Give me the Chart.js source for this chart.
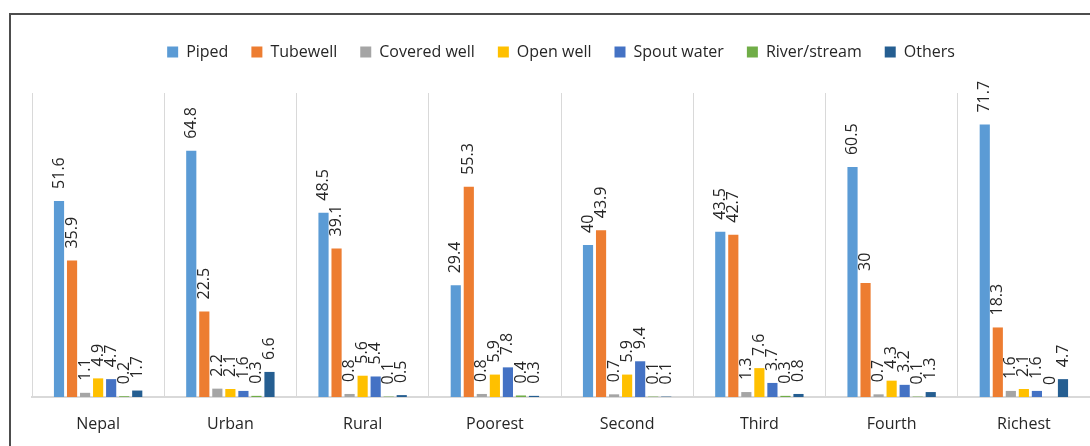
<!DOCTYPE html>
<html>
<head>
<meta charset="utf-8">
<script src="https://cdn.jsdelivr.net/npm/chart.js@4/dist/chart.umd.min.js"></script>
<style>
  html, body { margin:0; padding:0; background:#fff; overflow:hidden; }
  #wrap { position:relative; width:1090px; height:446px; }
  #frame { position:absolute; left:9px; top:13px; width:1200px; height:600px;
           border-left:2px solid #4d4d4d; border-top:2px solid #4d4d4d; }
  #chartBox { position:absolute; left:0; top:0; width:1090px; height:446px; }
</style>
</head>
<body>
<div id="wrap">
  <div id="frame"></div>
  <div id="chartBox"><canvas id="c"></canvas></div>
</div>
<script>
const categories = ['Nepal','Urban','Rural','Poorest','Second','Third','Fourth','Richest'];

const piped      = [51.6, 64.8, 48.5, 29.4, 40,   43.5, 60.5, 71.7];
const tubewell   = [35.9, 22.5, 39.1, 55.3, 43.9, 42.7, 30,   18.3];
const coveredWell= [1.1,  2.2,  0.8,  0.8,  0.7,  1.3,  0.7,  1.6];
const openWell   = [4.9,  2.1,  5.6,  5.9,  5.9,  7.6,  4.3,  2.1];
const spoutWater = [4.7,  1.6,  5.4,  7.8,  9.4,  3.7,  3.2,  1.6];
const riverStream= [0.2,  0.3,  0.1,  0.4,  0.1,  0.3,  0.1,  0];
const others     = [1.7,  6.6,  0.5,  0.3,  0.1,  0.8,  1.3,  4.7];

const FONT = '"Open Sans", "Noto Sans", sans-serif';

function series(label, data, color){
  return {
    label, data,
    backgroundColor: color,
    borderWidth: 0,
    categoryPercentage: 0.69,
    barPercentage: 0.78
  };
}

// rotated value labels above each bar
const valueLabels = {
  id:'valueLabels',
  afterDatasetsDraw(chart){
    const ctx = chart.ctx;
    ctx.save();
    ctx.font = '16px ' + FONT;
    ctx.fillStyle = '#262626';
    ctx.textAlign = 'left';
    ctx.textBaseline = 'middle';
    chart.data.datasets.forEach((ds, i)=>{
      const meta = chart.getDatasetMeta(i);
      meta.data.forEach((bar, j)=>{
        const v = ds.data[j];
        ctx.save();
        ctx.translate(bar.x, bar.y - 12);
        ctx.rotate(-Math.PI/2);
        ctx.fillText(String(v), 0, 0);
        ctx.restore();
      });
    });
    ctx.restore();
  }
};

// extra space below legend
const legendGap = {
  id:'legendGap',
  beforeInit(chart){
    const fit = chart.legend.fit;
    chart.legend.fit = function(){
      fit.bind(chart.legend)();
      this.height += 23;
    };
  }
};

new Chart(document.getElementById('c'), {
  type:'bar',
  data:{
    labels: categories,
    datasets:[
      series('Piped', piped, '#5B9BD5'),
      series('Tubewell', tubewell, '#ED7D31'),
      series('Covered well', coveredWell, '#A5A5A5'),
      series('Open well', openWell, '#FFC000'),
      series('Spout water', spoutWater, '#4472C4'),
      series('River/stream', riverStream, '#70AD47'),
      series('Others', others, '#255E91')
    ]
  },
  options:{
    responsive:true,
    maintainAspectRatio:false,
    animation:false,
    layout:{padding:{top:21, left:32, right:0, bottom:0}},
    plugins:{
      legend:{
        position:'top',
        align:'center',
        labels:{
          color:'#262626',
          boxWidth:11,
          boxHeight:11,
          padding:23,
          font:{size:16, family:FONT}
        }
      },
      tooltip:{enabled:false}
    },
    scales:{
      x:{
        grid:{color:'#D9D9D9', lineWidth:1, drawTicks:false, offset:true},
        border:{color:'#D9D9D9', width:2},
        ticks:{color:'#262626', padding:18, font:{size:16, family:FONT}},
        afterFit(scale){ scale.height = 49; }
      },
      y:{
        display:false,
        min:0,
        max:80
      }
    }
  },
  plugins:[valueLabels, legendGap]
});
</script>
</body>
</html>
